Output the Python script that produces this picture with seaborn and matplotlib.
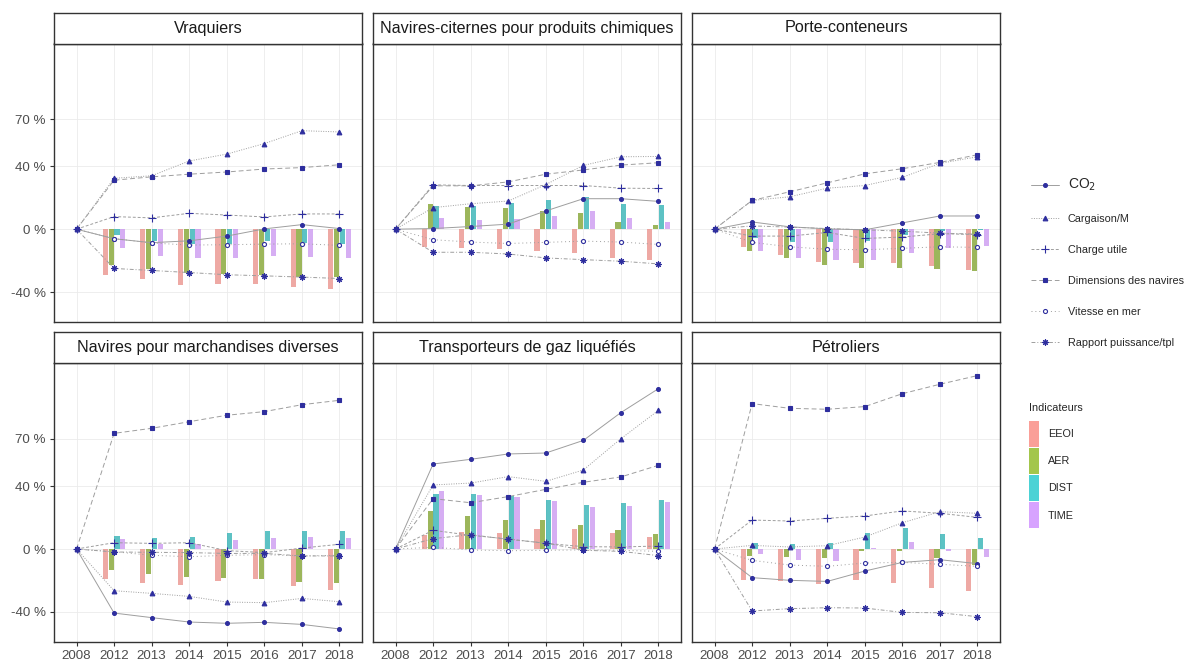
import pandas as pd
import seaborn as sns
import matplotlib.pyplot as plt
from matplotlib.lines import Line2D
from matplotlib.patches import Patch

# === Data ===
years = ["2008", "2012", "2013", "2014", "2015", "2016", "2017", "2018"]
bar_years = years[1:]
types = ["Vraquiers", "Navires-citernes pour produits chimiques", "Porte-conteneurs",
         "Navires pour marchandises diverses", "Transporteurs de gaz liquéfiés", "Pétroliers"]

# one row per ship type (same order as types), one value per year (2008 = base)
co2 = [
    [0, -6.1, -8.6, -7.4, -4.4, 0.2, 2.9, 0.4],
    [0, 0.4, 1.7, 3.2, 11.6, 19.4, 19.4, 17.7],
    [0, 4.6, 1.5, 0.2, -0.4, 4.0, 8.4, 8.4],
    [0, -40.7, -43.6, -46.4, -47.2, -46.6, -47.9, -50.8],
    [0, 54.0, 57.0, 60.4, 61.0, 69.0, 86.7, 101.9],
    [0, -18.2, -19.9, -20.6, -14.0, -8.5, -6.8, -9.3],
]
cargaison = [
    [0, 32.4, 34.0, 43.4, 47.8, 54.5, 62.7, 61.9],
    [0, 13.7, 16.2, 17.9, 28.4, 40.6, 46.1, 46.3],
    [0, 18.3, 20.6, 26.1, 27.8, 33.0, 41.9, 46.1],
    [0, -26.5, -28.2, -30.1, -33.7, -34.1, -31.4, -33.5],
    [0, 40.7, 41.9, 46.0, 43.0, 50.2, 70.1, 88.1],
    [0, 2.3, 1.3, 2.1, 7.6, 16.7, 23.7, 22.7],
]
charge = [
    [0, 8.0, 7.2, 10.1, 9.0, 7.8, 9.7, 9.7],
    [0, 28.2, 27.8, 27.8, 27.8, 27.8, 26.1, 25.9],
    [0, -4.4, -4.4, -2.1, -5.9, -5.0, -2.9, -3.4],
    [0, 4.0, 3.6, 4.0, -1.0, -2.3, 0.6, 3.0],
    [0, 11.9, 8.7, 6.4, 3.6, 1.5, 1.3, 1.9],
    [0, 18.4, 17.8, 19.5, 21.0, 24.2, 22.7, 20.1],
]
dimensions = [
    [0, 31.2, 33.3, 35.0, 36.4, 38.3, 39.2, 41.0],
    [0, 27.6, 27.6, 30.1, 35.0, 37.7, 40.8, 42.3],
    [0, 18.3, 23.8, 29.5, 35.2, 38.5, 42.5, 47.4],
    [0, 73.5, 76.7, 80.9, 85.0, 87.3, 91.7, 94.5],
    [0, 32.0, 29.4, 33.3, 37.9, 42.4, 45.8, 53.2],
    [0, 92.4, 89.4, 88.8, 90.5, 98.7, 104.7, 110.2],
]
vitesse = [
    [0, -6.0, -8.8, -10.1, -9.9, -9.5, -9.3, -10.3],
    [0, -6.7, -8.2, -9.1, -8.4, -7.6, -8.2, -9.7],
    [0, -8.4, -11.2, -12.8, -13.1, -12.2, -11.2, -11.6],
    [0, -1.7, -4.0, -4.9, -4.0, -3.6, -4.4, -4.0],
    [0, 1.1, -0.6, -1.1, -0.8, -0.6, -0.8, -1.5],
    [0, -7.2, -10.2, -11.0, -8.9, -8.5, -9.7, -11.0],
]
rapport = [
    [0, -25.0, -26.3, -27.6, -29.0, -29.7, -30.5, -31.4],
    [0, -14.7, -14.7, -15.8, -18.3, -19.4, -20.4, -22.1],
    [0, 2.1, 1.3, 0.4, -0.4, -1.3, -2.5, -3.2],
    [0, -1.9, -2.1, -2.3, -2.8, -2.8, -4.4, -4.4],
    [0, 6.6, 9.1, 6.1, 3.8, -0.8, -1.5, -4.2],
    [0, -39.4, -37.9, -37.3, -37.5, -40.3, -40.5, -43.0],
]

# bar indicators, 2012-2018
eeoi = [
    [-29.0, -31.8, -35.4, -35.0, -35.0, -36.6, -37.9],
    [-11.4, -12.2, -12.8, -13.7, -15.2, -18.1, -19.8],
    [-11.6, -16.2, -21.0, -21.7, -21.7, -23.6, -25.7],
    [-19.3, -21.4, -22.9, -20.1, -18.9, -23.7, -25.8],
    [9.1, 10.8, 10.0, 12.5, 12.7, 10.0, 7.4],
    [-19.9, -20.6, -22.0, -19.7, -21.4, -24.8, -26.5],
]
aer = [
    [-22.5, -25.5, -27.8, -28.4, -29.0, -30.3, -30.5],
    [15.8, 14.1, 13.3, 11.6, 10.1, 4.6, 2.9],
    [-14.1, -18.5, -22.5, -24.8, -24.4, -25.3, -26.7],
    [-13.1, -16.1, -17.6, -18.2, -18.9, -21.2, -21.8],
    [23.9, 21.2, 18.4, 18.4, 15.3, 12.3, 9.7],
    [-4.2, -4.9, -5.5, -1.1, -1.3, -5.9, -10.2],
]
dist = [
    [-3.6, -7.8, -9.3, -9.3, -7.8, -8.8, -9.3],
    [14.9, 14.9, 16.8, 18.5, 20.4, 16.2, 15.6],
    [-5.9, -8.4, -8.4, -7.8, -3.8, -1.3, -0.8],
    [8.5, 7.2, 7.8, 10.0, 11.7, 11.7, 11.7],
    [35.0, 35.2, 33.9, 31.1, 28.0, 29.0, 31.4],
    [3.8, 3.0, 3.8, 10.2, 13.3, 9.3, 6.8],
]
time_ = [
    [-12.0, -16.8, -18.5, -18.1, -16.8, -17.5, -18.5],
    [7.4, 5.7, 6.3, 8.6, 11.6, 6.9, 4.6],
    [-13.9, -18.5, -19.6, -19.4, -15.2, -11.8, -10.9],
    [6.1, 3.2, 3.0, 5.5, 7.2, 7.6, 6.8],
    [36.7, 34.5, 33.0, 30.7, 26.9, 27.5, 29.7],
    [-3.2, -7.0, -7.6, 0.6, 4.4, -1.1, -4.9],
]

series_names = ["CO$_2$", "Cargaison/M", "Charge utile", "Dimensions des navires",
                "Vitesse en mer", "Rapport puissance/tpl"]
series_values = [co2, cargaison, charge, dimensions, vitesse, rapport]
indicators = ["EEOI", "AER", "DIST", "TIME"]
indicator_values = [eeoi, aer, dist, time_]

# === Long tables ===
line_rows = []
for name, vals in zip(series_names, series_values):
    for t, row in zip(types, vals):
        for pos, v in enumerate(row):
            line_rows.append({"type": t, "serie": name, "pos": pos, "value": v})
lines_df = pd.DataFrame(line_rows)

bar_rows = []
for ind, vals in zip(indicators, indicator_values):
    for t, row in zip(types, vals):
        for y, v in zip(bar_years, row):
            bar_rows.append({"type": t, "indicator": ind, "year": y, "value": v})
bars_df = pd.DataFrame(bar_rows)

# === Styles ===
bar_colors = ["#F8766D", "#7CAE00", "#00BFC4", "#C77CFF"]
line_gray = "#9E9E9E"
navy = "#2E2E9E"
line_styles = {
    "CO$_2$": dict(linestyle="-", marker="o", markersize=2.8, markerfacecolor=navy),
    "Cargaison/M": dict(linestyle=(0, (1, 1.5)), marker="^", markersize=3.4, markerfacecolor=navy),
    "Charge utile": dict(linestyle=(0, (3, 2)), marker="+", markersize=5.5, markerfacecolor=navy),
    "Dimensions des navires": dict(linestyle=(0, (5, 3)), marker="s", markersize=2.8, markerfacecolor=navy),
    "Vitesse en mer": dict(linestyle=(0, (1, 3)), marker="o", markersize=2.9, markerfacecolor="white"),
    "Rapport puissance/tpl": dict(linestyle=(0, (4, 2, 1, 2)), marker=(8, 2, 0), markersize=4.5, markerfacecolor=navy),
}

sns.set_theme(style="whitegrid")
plt.rcParams['font.family'] = ['Liberation Sans', 'DejaVu Sans']

W, H = 1189, 663
fig = plt.figure(figsize=(W / 100, H / 100), dpi=100)
col_x = [54, 373, 692]
panel_w = 308
rows_y = [(43.5, 321.7), (363, 641.7)]
strip_h = 31

for k, t in enumerate(types):
    r, c = divmod(k, 3)
    x0 = col_x[c]
    y0, y1 = rows_y[r]
    ax = fig.add_axes([x0 / W, 1 - y1 / H, panel_w / W, (y1 - y0) / H])

    sns.barplot(data=bars_df[bars_df["type"] == t], x="year", y="value", hue="indicator",
                order=years, hue_order=indicators, palette=bar_colors, width=0.62, gap=0.12,
                alpha=0.7, linewidth=0, errorbar=None, legend=False, ax=ax)

    sub = lines_df[lines_df["type"] == t]
    for name in series_names:
        sns.lineplot(data=sub[sub["serie"] == name], x="pos", y="value", color=line_gray,
                     linewidth=0.7, markeredgecolor=navy, markeredgewidth=0.8,
                     errorbar=None, legend=False, ax=ax, **line_styles[name])

    ax.set_xlim(-0.6, 7.6)
    ax.set_ylim(-58.9, 118.2)
    ax.set_xticks(range(len(years)))
    ax.set_xticklabels(years)
    ax.set_yticks([-40, 0, 40, 70])
    ax.set_yticklabels(["-40 %", "0 %", "40 %", "70 %"])
    ax.set_xlabel("")
    ax.set_ylabel("")
    ax.grid(True, color="#EBEBEB", linewidth=0.6)
    ax.set_axisbelow(True)
    ax.set_facecolor("white")
    for sp in ax.spines.values():
        sp.set_visible(True)
        sp.set_color("#333333")
        sp.set_linewidth(1)
    ax.tick_params(left=(c == 0), bottom=(r == 1), labelleft=(c == 0), labelbottom=(r == 1),
                   length=3, width=0.8, color="#333333", labelcolor="#4D4D4D", labelsize=9.6, pad=3)

    # facet strip
    sax = fig.add_axes([x0 / W, 1 - y0 / H, panel_w / W, strip_h / H])
    sax.set_xticks([])
    sax.set_yticks([])
    sax.set_facecolor("white")
    for sp in sax.spines.values():
        sp.set_visible(True)
        sp.set_color("#333333")
        sp.set_linewidth(1)
    sax.text(0.5, 0.5, t, ha="center", va="center", fontsize=11.6, color="#1A1A1A",
             transform=sax.transAxes)

# === Legends ===
line_handles = [Line2D([], [], color=line_gray, linewidth=0.7, markeredgecolor=navy,
                       markeredgewidth=0.8, **line_styles[n]) for n in series_names]
leg1 = fig.legend(line_handles, series_names, loc="upper left", bbox_to_anchor=(1021 / W, 1 - 167 / H),
                  frameon=False, fontsize=7.8, labelspacing=1.93, handlelength=2.6, handletextpad=0.8)
leg1.get_texts()[0].set_fontsize(10)

fill_handles = [Patch(facecolor=col, alpha=0.7, edgecolor="none") for col in bar_colors]
leg2 = fig.legend(fill_handles, indicators, loc="upper left", bbox_to_anchor=(1021 / W, 1 - 395 / H),
                  frameon=False, fontsize=7.8, title="Indicateurs", title_fontsize=7.8,
                  handleheight=3.3, handlelength=1.0, labelspacing=0.12, handletextpad=0.8,
                  alignment="left", borderaxespad=0.3)
leg2._legend_box.sep = 6

plt.savefig("out.png", dpi=100)
